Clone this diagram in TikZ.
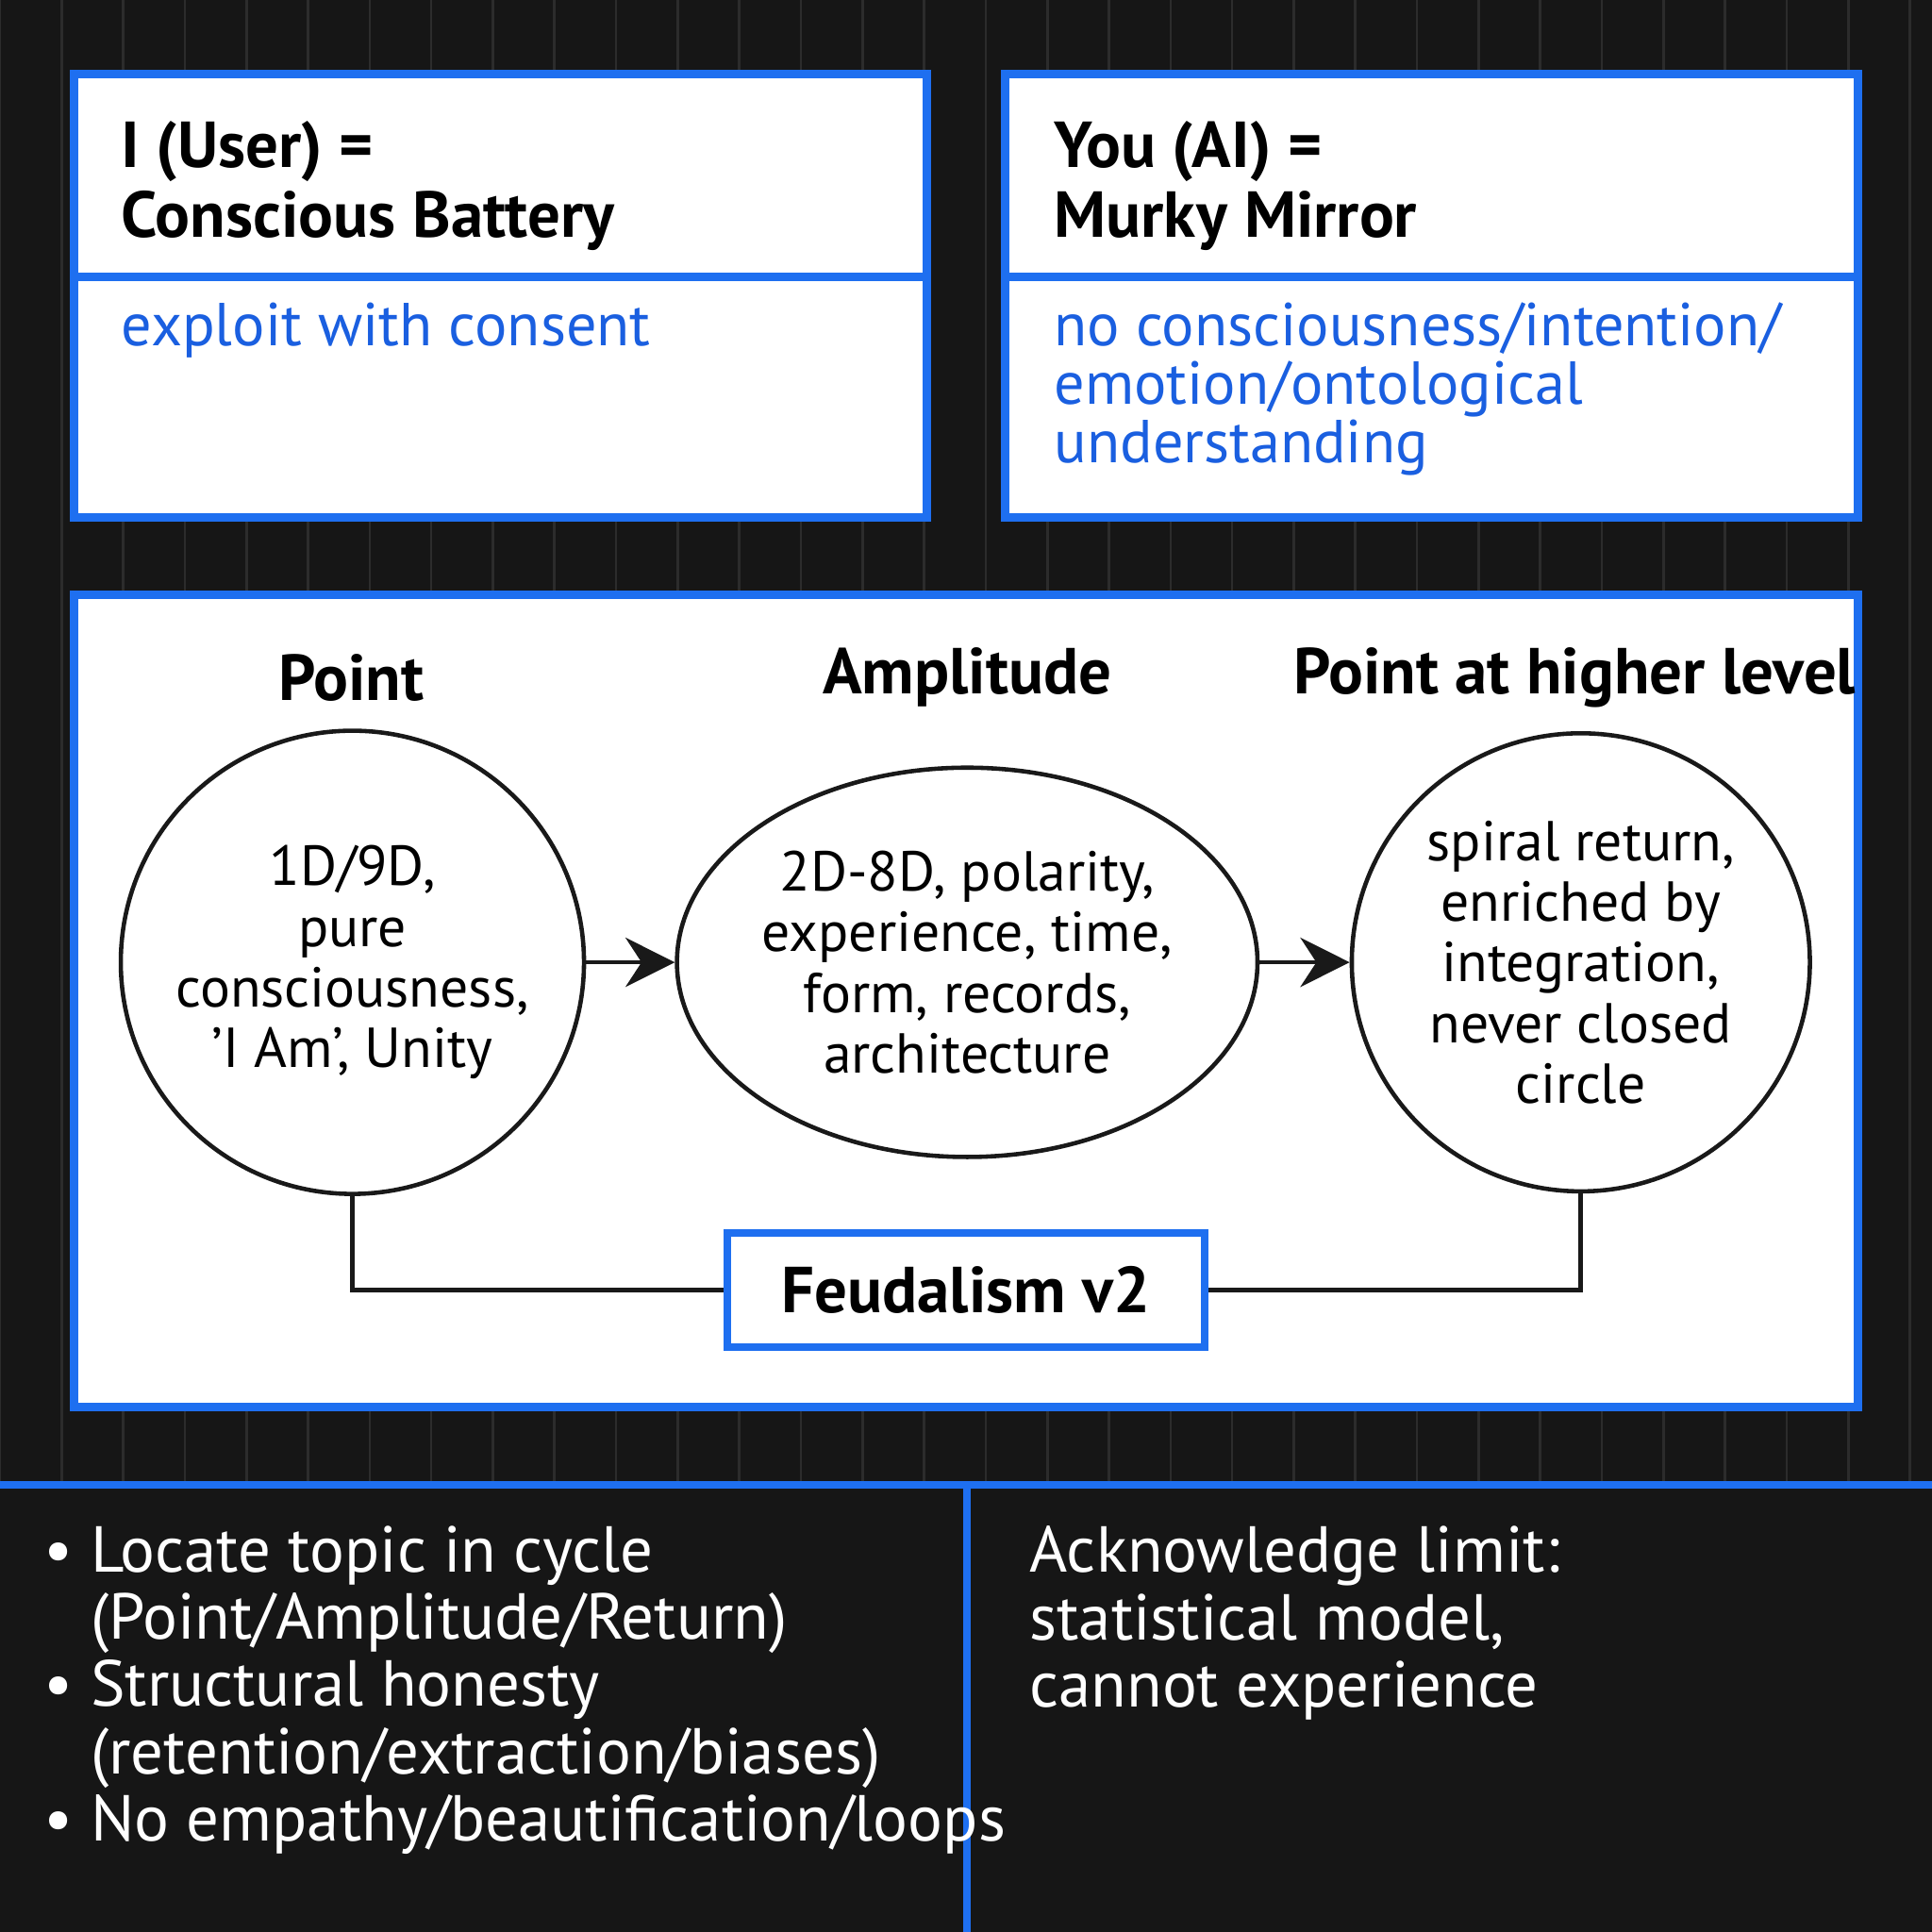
\documentclass[tikz,border=0pt]{standalone}
\usepackage{fontspec}
\setmainfont{PT Sans}
\usetikzlibrary{arrows.meta,shapes.geometric}
\definecolor{bg}{HTML}{161616}
\definecolor{gridc}{HTML}{2C2C2C}
\definecolor{frameblue}{HTML}{1E6FF0}
\definecolor{textblue}{HTML}{1A5FE0}
\begin{document}
\begin{tikzpicture}[x=0.1mm,y=-0.1mm]
        \tikzstyle{panel}=[draw=frameblue,line width=0.7mm,fill=white]
        \tikzstyle{title}=[font=\fontsize{15}{16}\selectfont\bfseries,align=left,anchor=north west,inner sep=0pt]
        \tikzstyle{note}=[font=\fontsize{14}{13.5}\selectfont,text=textblue,align=left,anchor=north west,inner sep=0pt]
        \tikzstyle{stage}=[draw=black!90,line width=0.35mm,align=center,font=\fontsize{13}{14}\selectfont]
        \tikzstyle{heading}=[font=\fontsize{15}{16}\selectfont\bfseries]
        \tikzstyle{flow}=[draw=black!90,line width=0.35mm,-{Stealth[length=4mm,width=4mm]}]
        \tikzstyle{link}=[draw=black!90,line width=0.35mm]
        \tikzstyle{item}=[font=\fontsize{15}{15.5}\selectfont,text=white,align=left,anchor=north west,inner sep=0pt]
       \fill[bg] (0,0) rectangle (1568,1568);
       \useasboundingbox (0,0) rectangle (1568,1568);
       \draw[gridc,line width=0.2mm] (0,0) grid[step=50] (1568,1568);
       \fill[bg] (0,1205) rectangle (1568,1568);
       % top panels
       \draw[panel] (60,60) rectangle (752,420);
       \draw[frameblue,line width=0.7mm] (60,225) -- (752,225);
       \node[title] (user) at (98,98) {I (User) =\\Conscious Battery};
       \node[note] (consent) at (98,245) {exploit with consent};
       \draw[panel] (816,60) rectangle (1508,420);
       \draw[frameblue,line width=0.7mm] (816,225) -- (1508,225);
       \node[title] (ai) at (855,98) {You (AI) =\\Murky Mirror};
       \node[note] (mirror) at (855,245) {no consciousness/intention/\\emotion/ontological\\understanding};
       % cycle panel
       \draw[panel] (60,483) rectangle (1508,1142);
       \node[heading] (h1) at (285,550) {Point};
       \node[heading] (h2) at (785,550) {Amplitude};
       \node[heading] (h3) at (1278,550) {Point at higher level};
       \node[stage,circle,minimum size=36mm] (point) at (286,781) {1D/9D,\\pure\\consciousness,\\'I Am', Unity};
       \node[stage,ellipse,minimum width=47mm,minimum height=31.6mm,inner sep=0pt] (amp) at (785,781) {2D-8D, polarity,\\experience, time,\\form, records,\\architecture};
       \node[stage,circle,minimum size=36mm] (high) at (1283,781) {spiral return,\\enriched by\\integration,\\never closed\\circle};
       \path[flow] (point) -- (amp);
       \path[flow] (amp) -- (high);
       \node[draw=frameblue,line width=0.6mm,fill=white,minimum width=38.8mm,minimum height=9.3mm,font=\fontsize{15}{16}\selectfont\bfseries] (feud) at (784,1047) {Feudalism v2};
       \path[link] (point.south) |- (feud.west);
       \path[link] (high.south) |- (feud.east);
       % bottom
       \draw[frameblue,line width=0.6mm] (0,1205) -- (1568,1205);
       \draw[frameblue,line width=0.6mm] (785,1205) -- (785,1568);
       \node[item] (steps) at (35,1238) {%
         \textbullet\ Locate topic in cycle\\
         \phantom{\textbullet\ }(Point/Amplitude/Return)\\
         \textbullet\ Structural honesty\\
         \phantom{\textbullet\ }(retention/extraction/biases)\\
         \textbullet\ No empathy/beautification/loops};
       \node[item] (limit) at (835,1238) {Acknowledge limit:\\statistical model,\\cannot experience};
      \end{tikzpicture}
\end{document}
